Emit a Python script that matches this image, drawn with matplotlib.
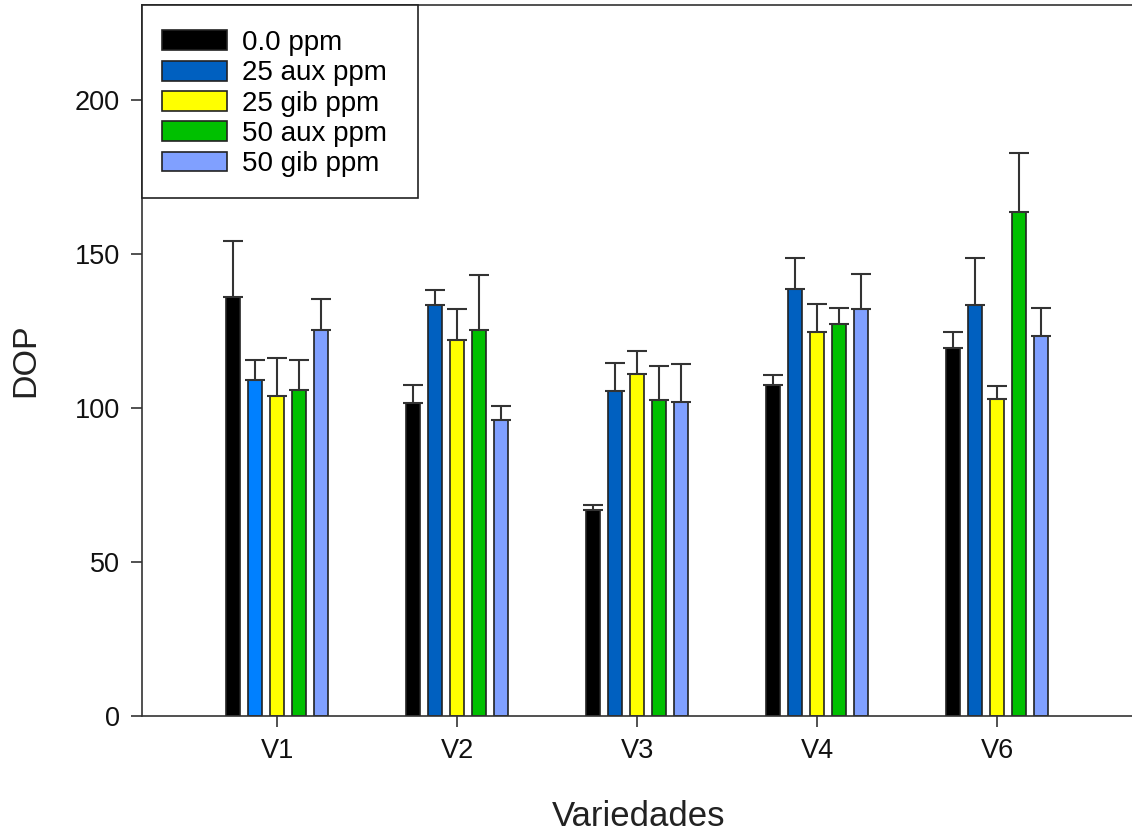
import matplotlib
matplotlib.use("Agg")
import matplotlib.pyplot as plt
import numpy as np
from matplotlib.patches import Patch, Rectangle

plt.rcParams['font.family'] = ['Liberation Sans', 'DejaVu Sans']

categories = ["V1", "V2", "V3", "V4", "V6"]
series_names = ["0.0 ppm", "25 aux ppm", "25 gib ppm", "50 aux ppm", "50 gib ppm"]
means = {
    "0.0 ppm":    [135.9, 101.6, 66.9, 107.5, 119.6],
    "25 aux ppm": [109.1, 133.4, 105.4, 138.7, 133.5],
    "25 gib ppm": [104.0, 121.9, 111.0, 124.8, 103.0],
    "50 aux ppm": [105.8, 125.3, 102.5, 127.2, 163.5],
    "50 gib ppm": [125.3, 96.1, 101.8, 132.0, 123.4],
}
errors = {
    "0.0 ppm":    [18.4, 5.9, 1.6, 3.2, 5.1],
    "25 aux ppm": [6.5, 4.9, 9.2, 9.9, 15.1],
    "25 gib ppm": [12.1, 10.1, 7.4, 8.9, 4.2],
    "50 aux ppm": [9.8, 17.9, 11.1, 5.3, 19.4],
    "50 gib ppm": [10.1, 4.4, 12.4, 11.6, 9.1],
}
colors = ["#000000", "#0060C0", "#FFFF00", "#00C000", "#80A0FF"]
v1_blue = "#0080FF"

W, H = 1132, 834
fig = plt.figure(figsize=(W/100, H/100), dpi=100)
ax = fig.add_axes([142/W, 1-716/H, 1-142/W+0.002, (716-5)/H])

x = np.arange(len(categories))
width = 0.078
step = 0.122
for i, name in enumerate(series_names):
    pos = x + (i - 2) * step
    cols = [colors[i]] * len(categories)
    if i == 1:
        cols[0] = v1_blue
    ax.bar(pos, means[name], width=width, color=cols, edgecolor="#222222",
           linewidth=1.2, label=name, zorder=2)
    ax.errorbar(pos, means[name], yerr=[np.zeros(len(categories)), errors[name]],
                fmt="none", ecolor="#333333", elinewidth=1.5, capsize=7,
                capthick=1.5, zorder=3)

ax.set_xlim(-0.75, 4.76)
ax.set_ylim(0, 230.8)
ax.set_xticks(x)
ax.set_xticklabels(categories)
ax.set_yticks([0, 50, 100, 150, 200])
ax.tick_params(axis="both", direction="out", length=8, width=1.2,
               labelsize=19.5, colors="#333333", labelcolor="#111111", pad=8)
ax.spines["right"].set_visible(False)
for s in ["left", "bottom", "top"]:
    ax.spines[s].set_linewidth(1.2)
    ax.spines[s].set_color("#333333")

ax.set_xlabel("Variedades", fontsize=25, labelpad=26, color="#222222")
ax.set_ylabel("DOP", fontsize=24.5, labelpad=24, color="#222222")

# legend frame (drawn on the axes, above bars)
ax.add_patch(Rectangle((142/W, 1-198/H), (418-142)/W, (198-5)/H,
                       transform=fig.transFigure, facecolor="white",
                       edgecolor="#222222", linewidth=1.2, zorder=4,
                       clip_on=False))

handles = []
for i, name in enumerate(series_names):
    handles.append(Patch(facecolor=colors[i], edgecolor="#222222", linewidth=1.2, label=name))
leg = fig.legend(handles=handles, loc="upper left",
                 bbox_to_anchor=(162/W, 1-30/H), bbox_transform=fig.transFigure,
                 borderaxespad=0, borderpad=0, fontsize=20, frameon=False,
                 handlelength=2.34, handleheight=0.72, labelspacing=0.155,
                 handletextpad=0.55)
leg.set_zorder(10)

fig.savefig("out.png", dpi=100)
